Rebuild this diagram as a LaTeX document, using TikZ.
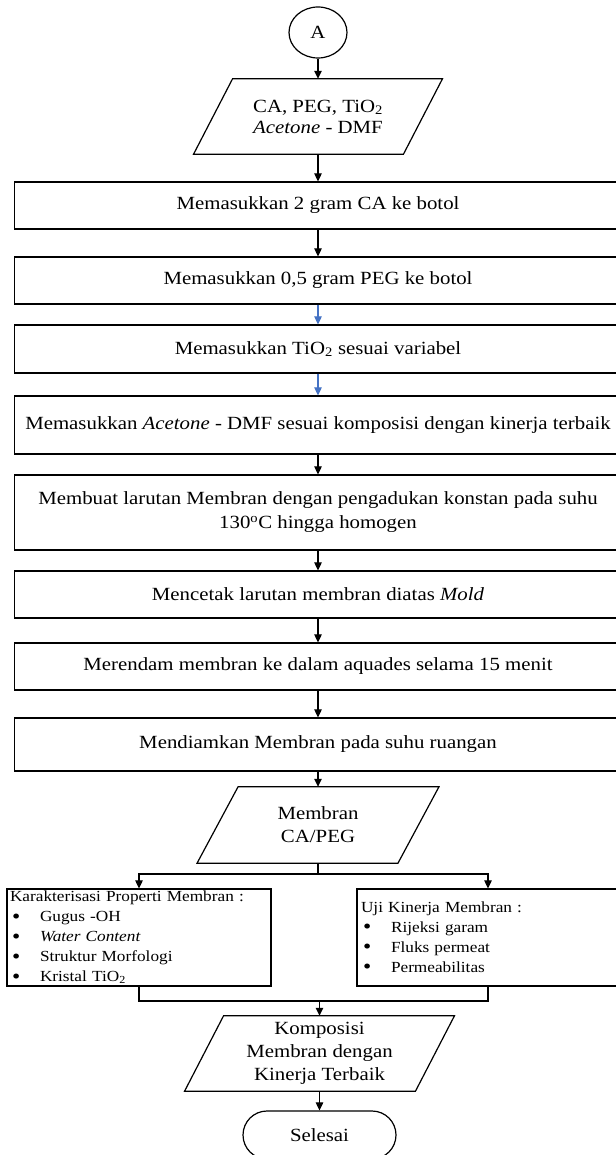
\documentclass[tikz,border=0pt]{standalone}
\usepackage{fontspec}
\setmainfont{Liberation Serif}[FakeStretch=1.12]
\usetikzlibrary{arrows.meta,shapes.geometric}
\definecolor{arrblue}{HTML}{4472C4}
\newcommand{\bigfont}{\fontsize{18.6pt}{23pt}\selectfont}
\newcommand{\pfont}{\fontsize{18.6pt}{21pt}\selectfont}
\newcommand{\boxfontfive}{\fontsize{18.6pt}{24pt}\selectfont}
\newcommand{\smallfont}{\fontsize{15.4pt}{20pt}\selectfont}
\newcommand{\bitem}[1]{\hspace*{2pt}\makebox[28pt][l]{\raisebox{-1.5pt}{\fontsize{21pt}{20pt}\selectfont\textbullet}}#1}
\begin{document}
\begin{tikzpicture}[x=1pt,y=-1pt,
  box/.style={draw, line width=1.2pt, minimum width=607pt, inner sep=0pt, align=center, font=\bigfont},
  io/.style={inner sep=0pt, align=center, font=\bigfont},
  shp/.style={line width=1.2pt},
  arr/.style={line width=1.1pt, -{Triangle[length=8pt,width=7.5pt]}},
  ln/.style={line width=1.1pt}]
\useasboundingbox (0,0) rectangle (615,1155);

\node[draw, ellipse, line width=1.2pt, minimum width=58pt, minimum height=51pt, inner sep=0pt, font=\bigfont] (A) at (318,32.5) {A};

\node[io, font=\pfont, minimum width=209.5pt, minimum height=75pt] (p1) at (318,116.5) {CA, PEG, TiO\textsubscript{2}\\\textit{Acetone} - DMF};
\draw[shp] ([xshift=-19.5pt]p1.south west) -- ([xshift=19.5pt]p1.north west) -- ([xshift=19.5pt]p1.north east) -- ([xshift=-19.5pt]p1.south east) -- cycle;

\node[box, minimum height=47pt] (b1) at (318,205.5) {Memasukkan 2 gram CA ke botol};
\node[box, minimum height=47pt] (b2) at (318,280.5) {Memasukkan 0,5 gram PEG ke botol};
\node[box, minimum height=48pt] (b3) at (318,349) {Memasukkan TiO\textsubscript{2} sesuai variabel};
\node[box, minimum height=58pt] (b4) at (318,425) {Memasukkan \textit{Acetone} - DMF sesuai komposisi dengan kinerja terbaik};
\node[box, font=\boxfontfive, minimum height=75pt] (b5) at (318,512.5) {Membuat larutan Membran dengan pengadukan konstan pada suhu\\130\textsuperscript{o}C hingga homogen};
\node[box, minimum height=47pt] (b6) at (318,594.5) {Mencetak larutan membran diatas \textit{Mold}};
\node[box, minimum height=47pt] (b7) at (318,666.5) {Merendam membran ke dalam aquades selama 15 menit};
\node[box, minimum height=53pt] (b8) at (318,744.5) {Mendiamkan Membran pada suhu ruangan};

\node[io, minimum width=200.5pt, minimum height=76pt] (p2) at (318,825) {Membran\\CA/PEG};
\draw[shp] ([xshift=-20.5pt]p2.south west) -- ([xshift=20.5pt]p2.north west) -- ([xshift=20.5pt]p2.north east) -- ([xshift=-20.5pt]p2.south east) -- cycle;

\node[draw, line width=1.2pt, text width=258pt, inner xsep=3pt, inner ysep=0pt, minimum height=97pt, align=left, font=\smallfont] (kp) at (139,937.5) {Karakterisasi Properti Membran :\\
\bitem{Gugus -OH}\\
\bitem{\textit{Water Content}}\\
\bitem{Struktur Morfologi}\\
\bitem{Kristal TiO\textsubscript{2}}};

\node[draw, line width=1.2pt, text width=254pt, inner xsep=4pt, inner ysep=0pt, minimum height=97pt, align=left, font=\smallfont] (uj) at (488,937.5) {Uji Kinerja Membran :\\
\bitem{Rijeksi garam}\\
\bitem{Fluks permeat}\\
\bitem{Permeabilitas}};

\node[io, minimum width=230.5pt, minimum height=75pt] (p3) at (319.5,1053.5) {Komposisi\\Membran dengan\\Kinerja Terbaik};
\draw[shp] ([xshift=-19.5pt]p3.south west) -- ([xshift=19.5pt]p3.north west) -- ([xshift=19.5pt]p3.north east) -- ([xshift=-19.5pt]p3.south east) -- cycle;

\node[draw, line width=1.2pt, rounded corners=24pt, minimum width=153pt, minimum height=48pt, font=\bigfont] (sel) at (319.5,1135) {Selesai};

\coordinate (fk) at (318,874);
\coordinate (jn) at (319.5,1001);

\draw[arr] (A.south) -- (p1.north);
\draw[arr] (p1.south) -- (b1.north);
\draw[arr] (b1.south) -- (b2.north);
\draw[arr, arrblue] (b2.south) -- (b3.north);
\draw[arr, arrblue] (b3.south) -- (b4.north);
\draw[arr] (b4.south) -- (b5.north);
\draw[arr] (b5.south) -- (b6.north);
\draw[arr] (b6.south) -- (b7.north);
\draw[arr] (b7.south) -- (b8.north);
\draw[arr] (b8.south) -- (p2.north);
\draw[ln] (p2.south) -- (fk);
\draw[arr] (fk) -| (kp.north);
\draw[arr] (fk) -| (uj.north);
\draw[ln] (kp.south) |- (jn) -| (uj.south);
\draw[arr] (jn) -- (p3.north);
\draw[arr] (p3.south) -- (sel.north);
\end{tikzpicture}
\end{document}
